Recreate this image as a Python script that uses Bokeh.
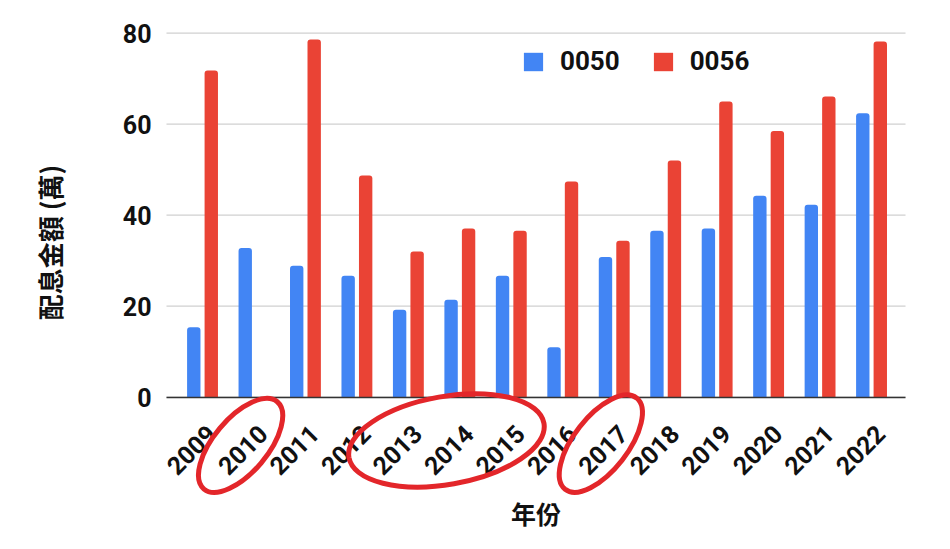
import numpy as np
from bokeh.plotting import figure
from bokeh.models import (ColumnDataSource, Range1d, FixedTicker, Legend, LegendItem,
                          CustomJSTickFormatter)
from bokeh.transform import dodge
from bokeh.embed import file_html
from bokeh.resources import INLINE

# ---- data ----
years = ["2009", "2010", "2011", "2012", "2013", "2014", "2015",
         "2016", "2017", "2018", "2019", "2020", "2021", "2022"]
etf_0050 = [15.4, 32.8, 28.9, 26.7, 19.2, 21.4, 26.7, 11.0, 30.8, 36.6, 37.1, 44.3, 42.3, 62.4]
etf_0056 = [71.8, 0.0, 78.6, 48.7, 32.0, 37.1, 36.6, 47.4, 34.4, 52.0, 65.0, 58.5, 66.1, 78.2]
series_names = ["0050", "0056"]
y_ticks = [0, 20, 40, 60, 80]
y_title = "配息金額 (萬)"
x_title = "年份"
circled_groups = [["2010"], ["2013", "2014", "2015"], ["2017"]]

# ---- styling / layout ----
BLUE = "#4285F4"
RED = "#EA4335"
INK = "#E3262A"
NUM_FONT = "Roboto"
CJK_FONT = "Noto Sans CJK TC"
W, H = 934, 533
X_LO, X_HI = -0.70, 13.66          # chart area in category units
PX_X = 739 / (X_HI - X_LO)         # px per category
PX_Y = 364 / 80                    # px per value unit
LEFT_PX, ZERO_PX = 166, 396.7      # chart area left edge / zero line (px from top-left)
LABEL_SHIFT = 0.17                 # Google-style label placement right of the category centre

x_start = X_LO - LEFT_PX / PX_X
x_end = x_start + W / PX_X
y_end = ZERO_PX / PX_Y
y_start = y_end - H / PX_Y

src = ColumnDataSource(dict(idx=list(range(len(years))), year=years,
                            a=etf_0050, b=etf_0056))

p = figure(width=W, height=H, output_backend="svg", toolbar_location=None,
           x_range=Range1d(x_start, x_end), y_range=Range1d(y_start, y_end),
           min_border=0)
p.outline_line_color = None
p.background_fill_color = "white"
p.border_fill_color = "white"
p.xgrid.grid_line_color = None
p.ygrid.grid_line_color = None

# horizontal gridlines limited to the chart area
p.segment(x0=X_LO, x1=X_HI, y0=y_ticks, y1=y_ticks, line_color="#d0d0d0",
          line_width=1.2, level="underlay")

r1 = p.vbar(x=dodge("idx", -0.17, range=p.x_range), top="a", width=0.26, source=src,
            fill_color=BLUE, line_color=None, border_radius=(3, 3, 0, 0))
r2 = p.vbar(x=dodge("idx", 0.17, range=p.x_range), top="b", width=0.26, source=src,
            fill_color=RED, line_color=None, border_radius=(3, 3, 0, 0))

# y axis, placed at the left edge of the chart area
p.yaxis.fixed_location = X_LO
p.yaxis.bounds = (-11.9, 80)
p.yaxis.ticker = FixedTicker(ticks=y_ticks)
p.yaxis.axis_line_color = None
p.yaxis.major_tick_line_color = None
p.yaxis.minor_tick_line_color = None
p.yaxis.major_label_standoff = 9
p.yaxis.major_label_text_font = NUM_FONT
p.yaxis.major_label_text_font_style = "bold"
p.yaxis.major_label_text_font_size = "25px"
p.yaxis.major_label_text_color = "#111111"
p.yaxis.axis_label = y_title
p.yaxis.axis_label_text_font = CJK_FONT
p.yaxis.axis_label_text_font_style = "bold"
p.yaxis.axis_label_text_font_size = "26px"
p.yaxis.axis_label_text_color = "#111111"
p.yaxis.axis_label_standoff = 52

# x axis, drawn at y = 0
p.xaxis.fixed_location = 0
p.xaxis.bounds = (X_LO, X_HI)
p.xaxis.ticker = FixedTicker(ticks=[i + LABEL_SHIFT for i in range(len(years))])
p.xaxis.formatter = CustomJSTickFormatter(args=dict(labels=years),
                                          code="return labels[Math.round(tick)];")
p.xaxis.major_label_orientation = np.pi / 4
p.xaxis.major_label_standoff = 26
p.xaxis.major_label_text_font = NUM_FONT
p.xaxis.major_label_text_font_style = "bold"
p.xaxis.major_label_text_font_size = "25px"
p.xaxis.major_label_text_color = "#111111"
p.xaxis.axis_line_color = "#333333"
p.xaxis.axis_line_width = 1.5
p.xaxis.major_tick_line_color = None
p.xaxis.minor_tick_line_color = None
p.xaxis.axis_label = x_title
p.xaxis.axis_label_text_font = CJK_FONT
p.xaxis.axis_label_text_font_style = "bold"
p.xaxis.axis_label_text_font_size = "25px"
p.xaxis.axis_label_text_color = "#111111"
p.xaxis.axis_label_standoff = 8

# legend
legend = Legend(items=[LegendItem(label=series_names[0], renderers=[r1]),
                       LegendItem(label=series_names[1], renderers=[r2])],
                orientation="horizontal", location=(521, 457),
                padding=0, margin=0, spacing=31, label_standoff=15,
                glyph_width=24, glyph_height=23, label_height=23,
                border_line_color=None, background_fill_alpha=0,
                label_text_font=NUM_FONT, label_text_font_style="bold",
                label_text_font_size="26px", label_text_color="#111111")
p.add_layout(legend)

# hand-drawn red rings around some year labels
ring_x = [float(np.mean([years.index(y) for y in g])) - 0.26 for g in circled_groups]
ring_y = [-10.6, -9.5, -10.2]
ring_w = [114, 198, 116]
ring_h = [54, 88, 54]
ring_a = [np.deg2rad(50), np.deg2rad(10), np.deg2rad(52)]
p.ellipse(x=ring_x, y=ring_y, width=ring_w, height=ring_h, angle=ring_a,
          width_units="screen", height_units="screen",
          fill_color=None, line_color=INK, line_width=5, level="overlay")

open("out.html", "w").write(file_html(p, INLINE))
